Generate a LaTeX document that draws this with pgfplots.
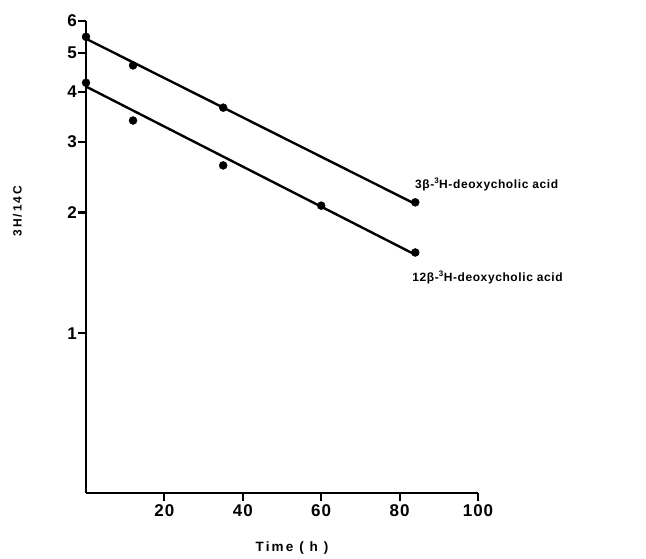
\documentclass[border=0pt]{standalone}
\usepackage{fontspec}
\setmainfont{Liberation Sans}
\newfontfamily\ticksfont[LetterSpace=6]{Liberation Sans}
\newfontfamily\labfont[LetterSpace=5]{Liberation Sans}
\newfontfamily\widefont[LetterSpace=16]{Liberation Sans}
\usepackage{pgfplots}
\pgfplotsset{compat=1.18}

\begin{document}
\begin{tikzpicture}
\path[use as bounding box] (-86pt,-65pt) rectangle (560pt,493pt);
\begin{axis}[
  at={(0,0)}, anchor=south west,
  scale only axis, width=392pt, height=472pt,
  xmin=0, xmax=100, ymin=0.4, ymax=6,
  ymode=log,
  axis lines*=left,
  axis line style={line width=2.2pt},
  tick style={line width=2.2pt, black},
  tick align=outside, major tick length=8pt,
  xtick={20,40,60,80,100},
  ytick={1,2,3,4,5,6},
  yticklabels={1,2,3,4,5,6},
  minor ytick={}, minor tick length=0pt,
  log ticks with fixed point,
  /pgf/number format/assume math mode=true,
  tick label style={font=\ticksfont\fontsize{17}{17}\selectfont\bfseries},
  yticklabel style={inner xsep=1pt},
  xlabel={Time ( h )},
  xlabel style={font=\widefont\fontsize{13.5}{15}\selectfont\bfseries,
    at={(axis description cs:0.5255,0)}, anchor=center, yshift=-55pt},
  clip=false,
]
\addplot[black, line width=2.4pt] coordinates {(0,5.42) (84,2.10)};
\addplot[black, line width=2.4pt] coordinates {(0,4.12) (84,1.57)};
\addplot[only marks, mark=*, mark size=4pt, black] coordinates {
  (0,5.48) (12,4.65) (35,3.65) (84,2.12)
};
\addplot[only marks, mark=*, mark size=4pt, black] coordinates {
  (0,4.21) (12,3.39) (35,2.62) (60,2.08) (84,1.59)
};
\node[anchor=west, font=\labfont\fontsize{12}{14}\selectfont\bfseries, inner sep=0pt]
  at (axis cs:83.9,2.35) {3β-\textsuperscript{3}H-deoxycholic acid};
\node[anchor=west, font=\labfont\fontsize{12}{14}\selectfont\bfseries, inner sep=0pt]
  at (axis cs:83.2,1.378) {12β-\textsuperscript{3}H-deoxycholic acid};
\node[rotate=90, font=\widefont\fontsize{12}{14}\selectfont\bfseries]
  at (axis description cs:-0.175,0.597) {3H/14C};
\end{axis}
\end{tikzpicture}
\end{document}
